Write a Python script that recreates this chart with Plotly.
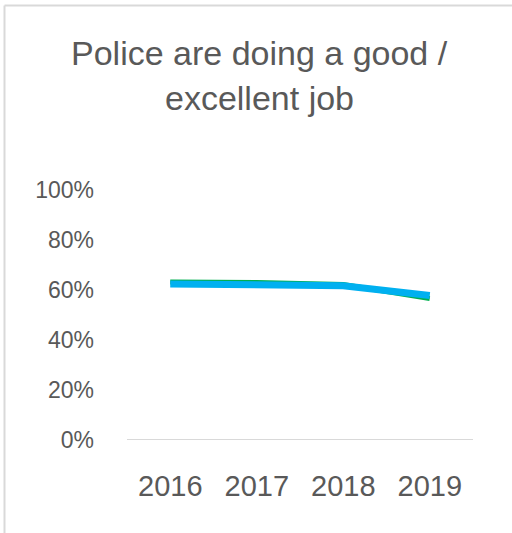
import plotly.graph_objects as go

years = ["2016", "2017", "2018", "2019"]
series_green = [0.632, 0.630, 0.622, 0.566]
series_blue = [0.624, 0.622, 0.617, 0.578]
y_ticks = [0, 0.2, 0.4, 0.6, 0.8, 1.0]
y_tick_labels = ["0%", "20%", "40%", "60%", "80%", "100%"]
title_lines = ["Police are doing a good /", "excellent job"]

W, H = 512, 533
L, R, T, B = 127, 39, 190, 93
pw, ph = W - L - R, H - T - B

def px(xp):
    return (xp - L) / pw

def py(yp):
    return (H - B - yp) / ph

FONT = "Liberation Sans"
GREY = "#595959"

fig = go.Figure()
fig.add_trace(go.Scatter(x=years, y=series_green, mode="lines",
                         line=dict(color="#00B050", width=5), showlegend=False,
                         hoverinfo="skip"))
fig.add_trace(go.Scatter(x=years, y=series_blue, mode="lines",
                         line=dict(color="#00B0F0", width=7), showlegend=False,
                         hoverinfo="skip"))

fig.update_layout(
    width=W, height=H,
    margin=dict(l=L, r=R, t=T, b=B),
    paper_bgcolor="white", plot_bgcolor="white",
    showlegend=False,
    xaxis=dict(type="category", range=[-0.5, 3.5], showgrid=False, zeroline=False,
               showline=False, ticks="", ticklabelstandoff=26,
               tickfont=dict(family=FONT, size=29, color=GREY)),
    yaxis=dict(range=[0, 1], tickvals=y_ticks, ticktext=y_tick_labels,
               showgrid=False, zeroline=False, showline=False, ticks="",
               ticklabelstandoff=32,
               tickfont=dict(family=FONT, size=23, color=GREY)),
    shapes=[
        dict(type="line", xref="paper", yref="y", x0=0, x1=1, y0=0, y1=0,
             line=dict(color="#d9d9d9", width=2), layer="below"),
        dict(type="line", xref="paper", yref="paper",
             x0=px(4.5), x1=px(4.5), y0=py(5.5), y1=py(533),
             line=dict(color="#d9d9d9", width=2)),
        dict(type="line", xref="paper", yref="paper",
             x0=px(4.5), x1=px(512), y0=py(5.5), y1=py(5.5),
             line=dict(color="#d9d9d9", width=2)),
    ],
    annotations=[
        dict(text=title_lines[0], xref="paper", yref="paper", x=px(259), y=py(53),
             xanchor="center", yanchor="middle", showarrow=False,
             font=dict(family=FONT, size=34, color=GREY)),
        dict(text=title_lines[1], xref="paper", yref="paper", x=px(259), y=py(98),
             xanchor="center", yanchor="middle", showarrow=False,
             font=dict(family=FONT, size=34, color=GREY)),
    ],
)

fig.write_html("out.html",
               config={"displayModeBar": False, "staticPlot": True},
               post_script="document.body.style.margin='0px';document.body.style.overflow='hidden';")
